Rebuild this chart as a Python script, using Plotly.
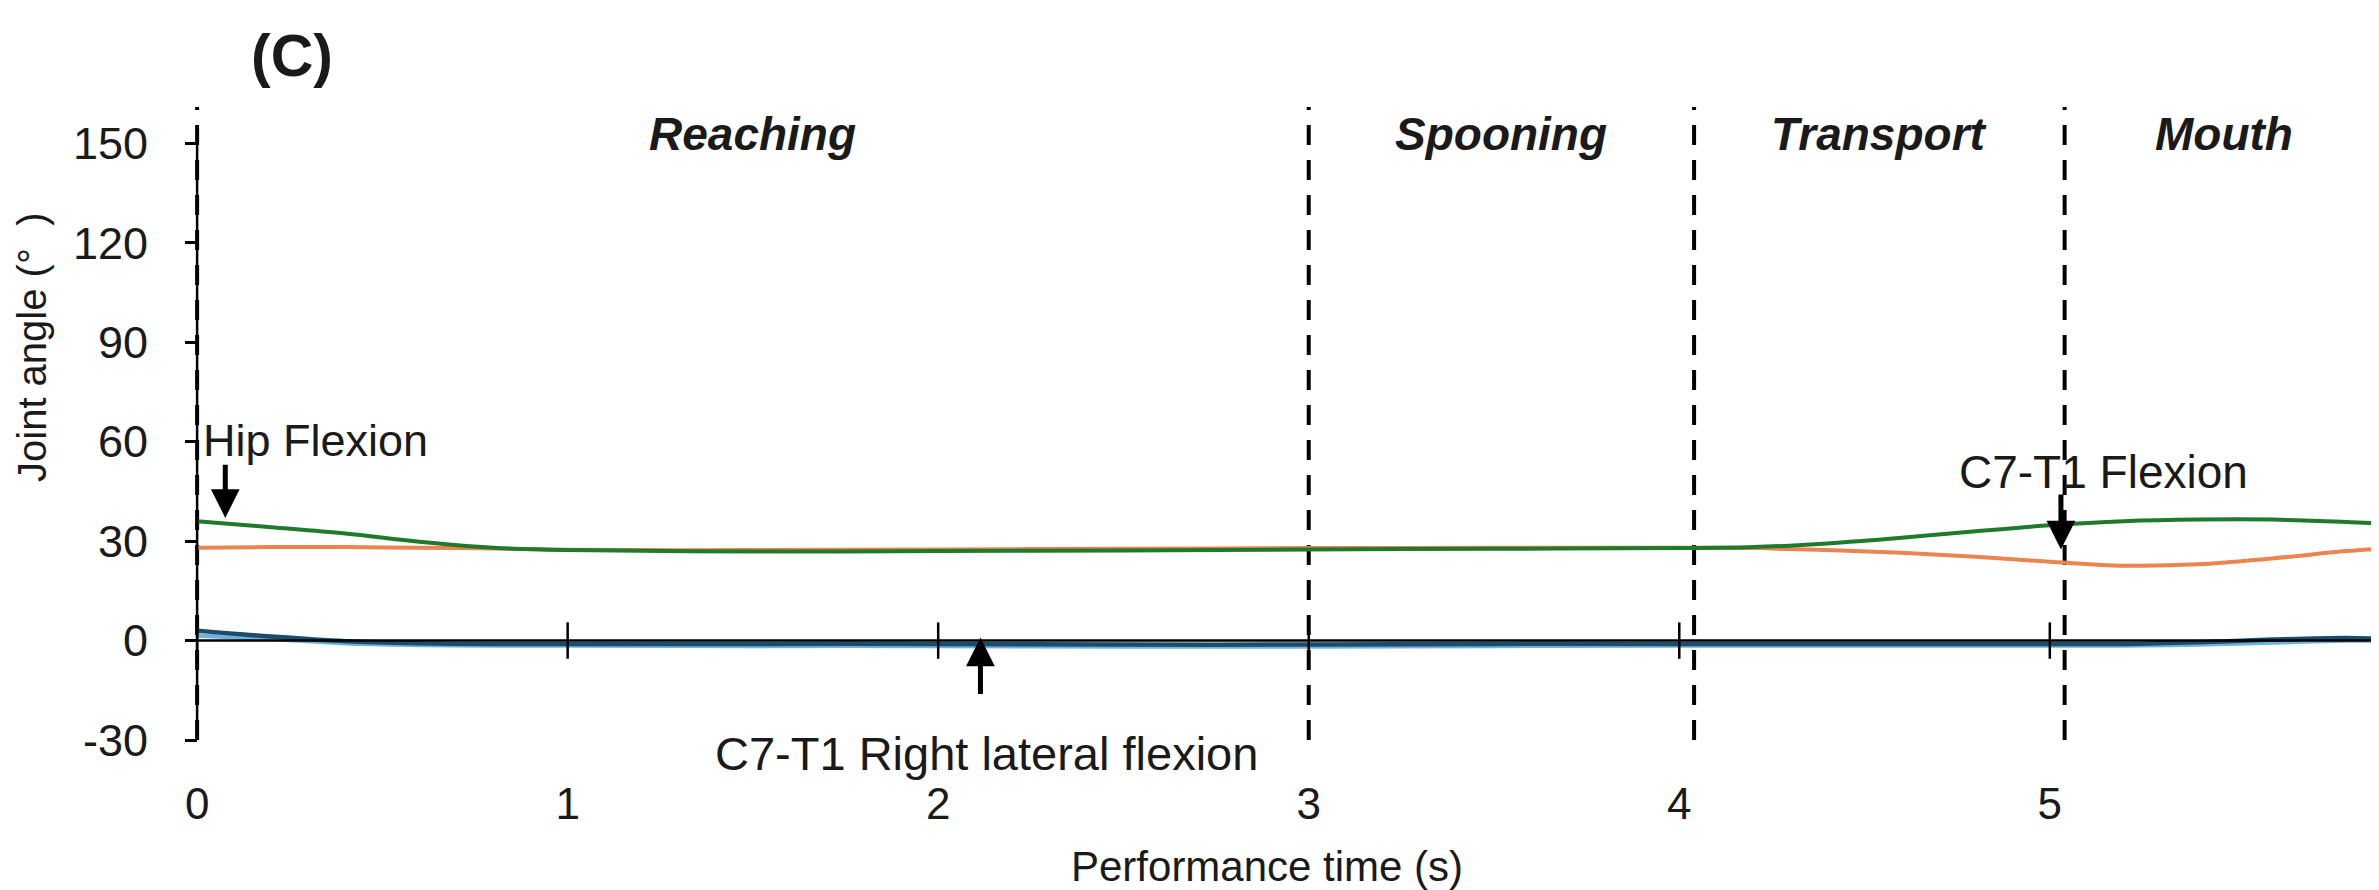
import plotly.graph_objects as go

# ---------------- data ----------------
time_s = [0, 0.2, 0.4, 0.6, 0.8, 1.0, 1.5, 2.0, 2.5, 3.0, 3.5, 4.0, 4.2, 4.4,
          4.6, 4.8, 5.0, 5.2, 5.4, 5.6, 5.8, 5.9]
hip_flexion = [36.0, 34.2, 32.3, 29.8, 28.0, 27.3, 26.9, 27.0, 27.2, 27.5, 27.7,
               27.9, 28.2, 29.3, 31.0, 33.0, 34.8, 36.0, 36.5, 36.5, 35.8, 35.3]
c7t1_flexion = [28.0, 28.2, 28.2, 28.0, 27.8, 27.4, 27.3, 27.5, 27.7, 27.9, 28.0,
                28.0, 27.9, 27.3, 26.5, 25.3, 23.8, 22.6, 23.0, 24.8, 27.0, 27.8]
c7t1_right_lat_flexion = [3.0, 1.2, -0.2, -0.8, -1.0, -1.0, -1.0, -1.0, -1.2, -1.2, -1.0,
                          -1.0, -1.0, -1.0, -1.0, -1.0, -1.0, -1.0, -0.5, 0.3, 0.8, 0.5]
c7t1_other = [1.5, 0.5, -0.8, -1.3, -1.5, -1.5, -1.6, -1.6, -1.8, -1.8, -1.6,
              -1.5, -1.5, -1.5, -1.5, -1.5, -1.5, -1.5, -1.2, -0.6, 0.0, 0.0]

phase_names = ["Reaching", "Spooning", "Transport", "Mouth"]
phase_bounds = [0.0, 3.0, 4.04, 5.04, 5.9]

x_ticks = [0, 1, 2, 3, 4, 5]
y_ticks = [-30, 0, 30, 60, 90, 120, 150]

# ---------------- layout constants ----------------
W, H = 2379, 890
M_L, M_R, M_T, M_B = 178, 0, 99, 158
x_range = [-0.03, 5.91]
y_range = [-30, 161]
FONT = "Liberation Sans, Arial, sans-serif"
TXT = "#1a1a1a"
pw = W - M_L - M_R
ph = H - M_T - M_B


def px_x(px):
    return (px - M_L) / pw


def px_y(py):
    return ((H - M_B) - py) / ph


fig = go.Figure()

# phase boundary dashed lines
for b in phase_bounds:
    fig.add_trace(go.Scatter(x=[b, b], y=y_range, mode="lines",
                             line=dict(color="black", width=4, dash="20px,15px"),
                             hoverinfo="skip", showlegend=False))

# curves
fig.add_trace(go.Scatter(x=time_s, y=c7t1_other, mode="lines", name="C7-T1 (other)",
                         line=dict(color="#6fb3dc", width=4.5, shape="spline"), showlegend=False))
fig.add_trace(go.Scatter(x=time_s, y=c7t1_right_lat_flexion, mode="lines",
                         name="C7-T1 Right lateral flexion",
                         line=dict(color="#1b4d6b", width=4.5, shape="spline"), showlegend=False))
fig.add_trace(go.Scatter(x=time_s, y=c7t1_flexion, mode="lines", name="C7-T1 Flexion",
                         line=dict(color="#ea8450", width=4, shape="spline"), showlegend=False))
fig.add_trace(go.Scatter(x=time_s, y=hip_flexion, mode="lines", name="Hip Flexion",
                         line=dict(color="#1f7a2c", width=4, shape="spline"), showlegend=False))

# axis lines (y axis at x=0 from -30 to 150, x axis at y=0)
fig.add_trace(go.Scatter(x=[0, 0], y=[y_ticks[0], y_ticks[-1]], mode="lines",
                         line=dict(color="black", width=2.5), hoverinfo="skip", showlegend=False))
fig.add_trace(go.Scatter(x=[phase_bounds[0], phase_bounds[-1]], y=[0, 0], mode="lines",
                         line=dict(color="black", width=2.5), hoverinfo="skip", showlegend=False))
# crossing tick marks on the y=0 axis
fig.add_trace(go.Scatter(x=x_ticks, y=[0] * len(x_ticks), mode="markers",
                         marker=dict(symbol="line-ns", size=26,
                                     line=dict(color="black", width=2.5)),
                         hoverinfo="skip", showlegend=False))

# phase labels
for i, name in enumerate(phase_names):
    fig.add_annotation(x=(phase_bounds[i] + phase_bounds[i + 1]) / 2, y=153,
                       text=f"<b><i>{name}</i></b>", showarrow=False,
                       font=dict(family=FONT, size=46, color=TXT),
                       xanchor="center", yanchor="middle")

# text labels and arrows
fig.add_annotation(x=0.01, y=60.5, text="Hip Flexion", showarrow=False,
                   xanchor="left", yanchor="middle", font=dict(family=FONT, size=45, color=TXT))
fig.add_annotation(x=0.076, y=37.0, ax=0.076, ay=53.5, axref="x", ayref="y", text="",
                   showarrow=True, arrowhead=2, arrowsize=1.15, arrowwidth=5, arrowcolor="black")

fig.add_annotation(x=4.75, y=51.0, text="C7-T1 Flexion", showarrow=False,
                   xanchor="left", yanchor="middle", font=dict(family=FONT, size=46, color=TXT))
fig.add_annotation(x=5.03, y=27.5, ax=5.03, ay=44.5, axref="x", ayref="y", text="",
                   showarrow=True, arrowhead=2, arrowsize=1.15, arrowwidth=5, arrowcolor="black")

# label sits just below the y-axis minimum, so shift it down in pixels
fig.add_annotation(x=2.13, y=-29, yshift=-17, text="C7-T1 Right lateral flexion",
                   showarrow=False, xanchor="center", yanchor="middle",
                   font=dict(family=FONT, size=47, color=TXT))
fig.add_annotation(x=2.114, y=0.9, ax=2.114, ay=-16.6, axref="x", ayref="y", text="",
                   showarrow=True, arrowhead=2, arrowsize=1.15, arrowwidth=5, arrowcolor="black")

# axis titles and panel title
fig.add_annotation(xref="paper", yref="paper", x=px_x(1259), y=px_y(858),
                   text="Performance time (s)", showarrow=False,
                   xanchor="center", yanchor="middle", font=dict(family=FONT, size=42, color=TXT))
fig.add_annotation(xref="paper", yref="paper", x=px_x(24), y=px_y(340),
                   text="Joint angle (°  )", textangle=-90, showarrow=False,
                   xanchor="center", yanchor="middle", font=dict(family=FONT, size=40, color=TXT))
fig.add_annotation(xref="paper", yref="paper", x=px_x(284), y=px_y(48),
                   text="<b>(C)</b>", showarrow=False,
                   xanchor="center", yanchor="middle", font=dict(family=FONT, size=59, color=TXT))

fig.update_layout(
    width=W, height=H,
    margin=dict(l=M_L, r=M_R, t=M_T, b=M_B, pad=0),
    paper_bgcolor="white", plot_bgcolor="white",
    showlegend=False,
    font=dict(family=FONT, color=TXT),
    xaxis=dict(range=x_range, tickvals=x_ticks, ticktext=[str(v) for v in x_ticks],
               showline=False, showgrid=False, zeroline=False,
               ticks="outside", ticklen=25, tickcolor="rgba(0,0,0,0)",
               tickfont=dict(family=FONT, size=44, color=TXT)),
    yaxis=dict(range=y_range, tickvals=y_ticks, ticktext=[str(v) for v in y_ticks],
               anchor="free", position=(0 - x_range[0]) / (x_range[1] - x_range[0]),
               showline=False, showgrid=False, zeroline=False,
               ticks="outside", ticklen=12, tickwidth=2.5, tickcolor="black",
               ticklabelstandoff=28,
               tickfont=dict(family=FONT, size=45, color=TXT)),
)

fig.write_html("out.html")
